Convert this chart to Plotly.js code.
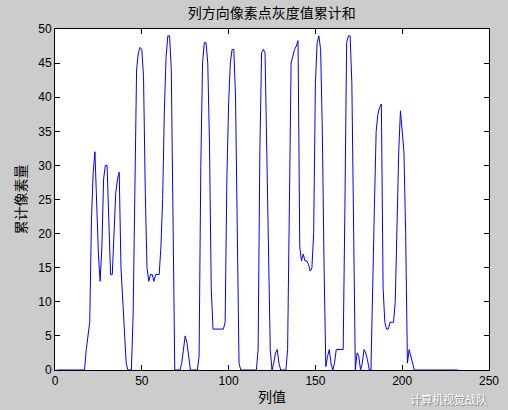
<!DOCTYPE html>
<html>
<head>
<meta charset="utf-8">
<script src="https://cdn.plot.ly/plotly-3.0.1.min.js"></script>
<style>
  html, body { margin: 0; padding: 0; background: #cccccc; }
  #chart { width: 508px; height: 410px; }
</style>
</head>
<body>
<div id="chart"></div>
<script>
// 列方向像素点灰度值累计和 (columns 1..232)
const colSums = [
    0, 0, 0, 0, 0, 0, 0, 0, 0, 0, 0, 0, 0, 0, 0, 0,            // 1-16
    0, 3, 5, 7, 22, 29, 32, 25, 17, 13,                         // 17-26
    18, 28, 30, 30, 22, 14, 14, 19, 26, 28,                     // 27-36
    29, 15, 10, 6, 1, 0, 0, 0, 8, 30,                           // 37-46
    44, 46.5, 47.3, 47, 43, 26, 15, 13, 14, 14,                 // 47-56
    13, 14, 14, 14, 18, 25, 38, 46, 49, 49,                     // 57-66
    44, 20, 0, 0, 0, 0, 1, 3, 5, 4,                             // 67-76
    2, 0, 0, 0, 0, 0, 2, 30, 45, 48,                            // 77-86
    48, 45, 33, 12, 6, 6, 6, 6, 6, 6,                           // 87-96
    6, 7, 28, 39, 45, 47, 47, 40, 19, 1,                        // 97-106
    0, 0, 0, 0, 0, 0, 0, 0, 0, 0,                               // 107-116
    3, 32, 46.5, 47, 46.5, 33, 17, 3, 0, 1,                     // 117-126
    2.5, 3, 1, 0, 0, 0, 0, 3, 25, 45,                           // 127-136
    46, 47, 47.5, 48.3, 18, 16, 17, 16, 16, 15.5,               // 137-146
    14.5, 15, 20, 42, 48, 49, 47, 35, 15, 0.5,                  // 147-156
    2, 3, 1, 0, 1, 3, 3, 3, 3, 3,                               // 157-166
    24, 48, 49, 49, 42, 20, 0, 2.5, 2, 0,                       // 167-176
    1, 3, 2.5, 1.5, 0, 0, 10, 24, 35, 37.5,                     // 177-186
    38.5, 39, 12, 7, 6, 6, 7, 7, 7, 10,                         // 187-196
    21, 32, 38, 35, 32, 20, 1, 3, 2, 1,                         // 197-206
    0, 0, 0, 0, 0, 0, 0, 0, 0, 0,                               // 207-216
    0, 0, 0, 0, 0, 0, 0, 0, 0, 0,                               // 217-226
    0, 0, 0, 0, 0, 0                                            // 227-232
];
const colIndex = colSums.map((v, i) => i + 1);

const xTicks = [0, 50, 100, 150, 200, 250];
const yTicks = [0, 5, 10, 15, 20, 25, 30, 35, 40, 45, 50];

const trace = {
    x: colIndex,
    y: colSums,
    type: 'scatter',
    mode: 'lines',
    line: { color: '#0000ff', width: 1 },
    hoverinfo: 'skip'
};

const axisStyle = {
    showgrid: false,
    zeroline: false,
    showline: true,
    linecolor: '#000000',
    linewidth: 1,
    mirror: 'ticks',
    ticks: 'inside',
    ticklen: 5,
    tickcolor: '#000000',
    tickfont: { family: 'Liberation Sans, Arial, sans-serif', size: 12, color: '#000000' }
};

const layout = {
    width: 508,
    height: 410,
    paper_bgcolor: '#cccccc',
    plot_bgcolor: '#ffffff',
    margin: { l: 55, r: 19, t: 29, b: 40 },
    showlegend: false,
    title: {
        text: '列方向像素点灰度值累计和',
        font: { family: 'Noto Sans CJK SC', size: 14, color: '#000000' },
        x: 0.535,
        xanchor: 'center',
        y: 0.968,
        yanchor: 'middle'
    },
    xaxis: Object.assign({}, axisStyle, {
        range: [0, 250],
        tickvals: xTicks,
        title: {
            text: '列值',
            font: { family: 'Noto Sans CJK SC', size: 14, color: '#000000' },
            standoff: 4
        }
    }),
    yaxis: Object.assign({}, axisStyle, {
        range: [0, 50],
        tickvals: yTicks,
        title: {
            text: '累计像素量',
            font: { family: 'Noto Sans CJK SC', size: 14, color: '#000000' },
            standoff: 8
        }
    }),
    annotations: [{
        // 公众号水印 (just below the tick labels)
        text: '计算机视觉战队',
        xref: 'paper', yref: 'paper',
        x: 1.0, y: -0.056,
        xanchor: 'right', yanchor: 'top',
        showarrow: false,
        font: { family: 'Noto Sans CJK SC', size: 11, color: '#ffffff', shadow: '1px 1px 1px #777777' }
    }]
};

Plotly.newPlot('chart', [trace], layout, { staticPlot: true, displayModeBar: false });
</script>
</body>
</html>
